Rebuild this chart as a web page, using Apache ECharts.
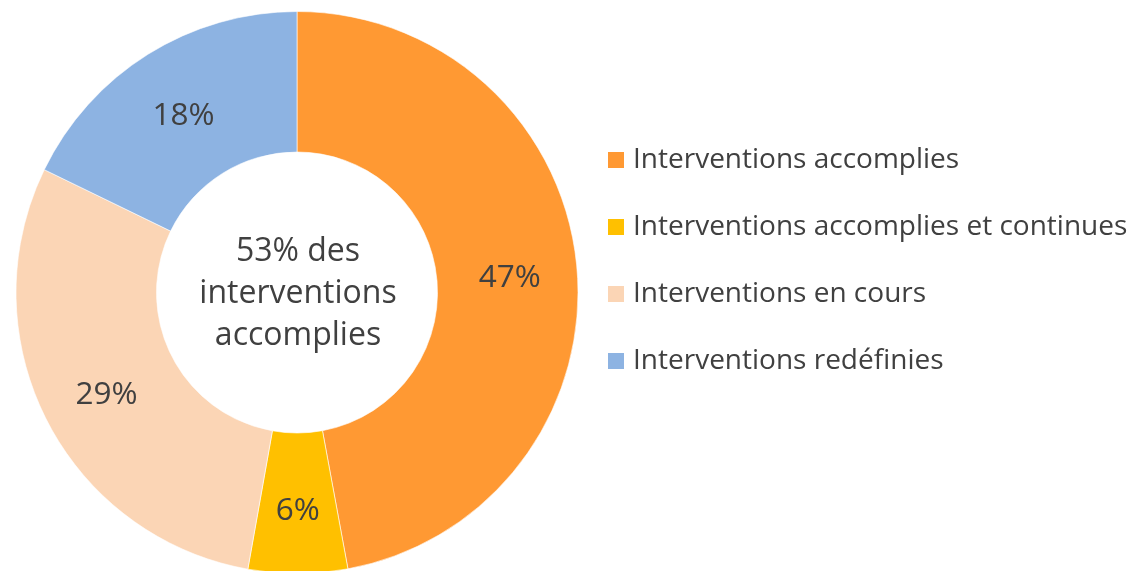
<!DOCTYPE html>
<html>
<head>
<meta charset="utf-8">
<script src="https://cdn.jsdelivr.net/npm/echarts@6/dist/echarts.min.js"></script>
<style>
html,body{margin:0;padding:0;background:#fff;}
#chart{width:1130px;height:571px;}
</style>
</head>
<body>
<div id="chart"></div>
<script>
const categories = [
  "Interventions accomplies",
  "Interventions accomplies et continues",
  "Interventions en cours",
  "Interventions redéfinies"
];
// shares (labels show them rounded)
const values = [47.1, 5.7, 29.4, 17.8];
const colors = ["#FF9933", "#FFC000", "#FBD5B5", "#8DB3E2"];
const centerText = "53% des\ninterventions\naccomplies";

const chart = echarts.init(document.getElementById('chart'));
const FONT = '"Open Sans", "Noto Sans", sans-serif';
chart.setOption({
  animation: false,
  color: colors,
  legend: {
    orient: 'vertical',
    left: 606,
    top: 146,
    padding: 0,
    itemWidth: 18,
    itemHeight: 18,
    itemGap: 39,
    icon: 'rect',
    data: categories,
    textStyle: {
      fontFamily: FONT,
      fontSize: 28,
      color: '#404040',
      lineHeight: 28,
      padding: [0, 0, 0, 3]
    }
  },
  graphic: [{
    type: 'text',
    z: 100,
    style: {
      text: centerText,
      x: 298,
      y: 294,
      textAlign: 'center',
      textVerticalAlign: 'middle',
      fontFamily: FONT,
      fontSize: 32,
      lineHeight: 42,
      fill: '#404040'
    }
  }],
  series: [{
    type: 'pie',
    center: [297, 292.5],
    radius: [140.5, 281],
    startAngle: 90,
    clockwise: true,
    avoidLabelOverlap: false,
    itemStyle: { borderColor: '#ffffff', borderWidth: 0.6 },
    label: {
      show: true,
      position: 'inside',
      formatter: p => Math.round(p.value) + '%',
      fontFamily: FONT,
      fontSize: 31.5,
      color: '#404040'
    },
    labelLayout: { dy: 5 },
    labelLine: { show: false },
    emphasis: { disabled: true },
    data: categories.map((name, i) => ({ name: name, value: values[i] }))
  }]
});
</script>
</body>
</html>
